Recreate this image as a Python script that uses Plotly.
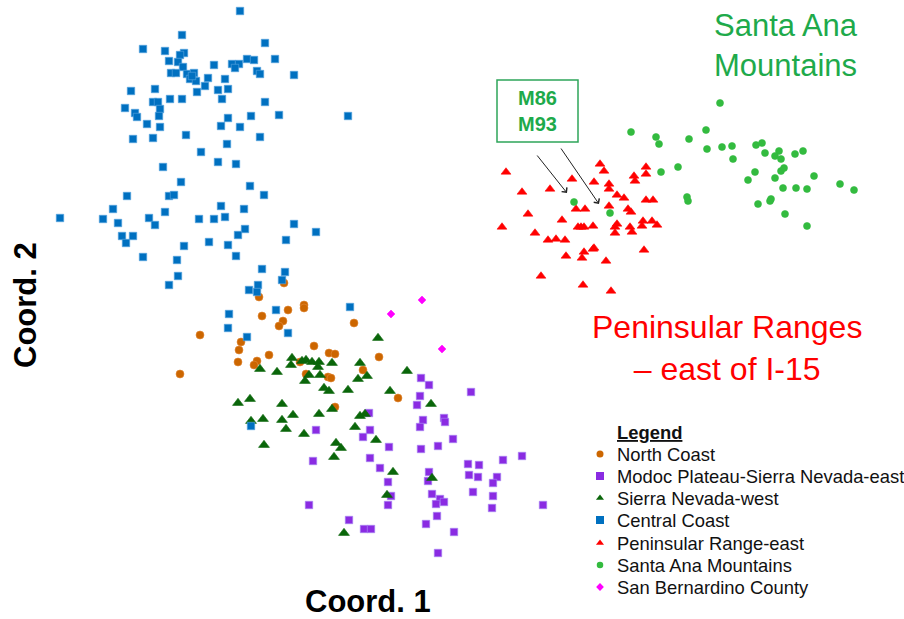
import plotly.graph_objects as go

# Ordination scores (plot units; Coord. 2 grows downward in these units)
north_coast_x = [284, 259, 304, 304, 288, 262, 354, 200, 283, 279, 241, 239, 238, 257, 254, 269, 314, 329, 335, 379, 300, 363, 180, 306, 328, 331, 398, 335]
north_coast_y = [283, 297, 305, 308, 310, 316, 323, 335, 321, 326, 342, 350, 362, 361, 365, 355, 346, 353, 354, 357, 362, 370, 374, 374, 377, 378, 398, 407]

central_coast_x = [240, 182, 143, 165, 265, 184, 180, 169, 178, 183, 214, 232, 239, 235, 247, 254, 275, 257, 260, 294,
                   171, 176, 187, 194, 190, 196, 192, 208, 225, 205, 197, 218, 228, 222, 131, 155, 170, 182, 125, 153,
                   158, 160, 135, 137, 159, 147, 160, 265, 228, 251, 279, 348, 221, 240, 133, 153, 186, 260, 227,
                   201, 218, 236, 163, 181, 250, 264, 127, 169, 174, 113, 221, 244, 60, 103, 118, 165, 149, 155, 199,
                   214, 225, 294, 316, 122, 133, 126, 245, 238, 286, 184, 209, 228, 143, 177, 236, 262, 285, 282, 178,
                   169, 258, 249, 257, 229, 228, 276, 350, 247, 288, 251]
central_coast_y = [11, 35, 49, 51, 43, 53, 55, 61, 62, 67, 65, 64, 64, 68, 59, 60, 59, 71, 74, 75,
                   73, 73, 74, 73, 79, 81, 76, 78, 79, 86, 92, 90, 89, 99, 91, 89, 99, 99, 108, 102,
                   102, 109, 113, 117, 116, 124, 127, 102, 118, 116, 115, 116, 126, 127, 139, 138, 135, 137, 144,
                   152, 162, 164, 167, 182, 186, 195, 196, 196, 195, 209, 206, 209, 218, 219, 223, 212, 218, 225, 219,
                   219, 217, 224, 232, 236, 236, 243, 229, 235, 240, 246, 242, 245, 257, 260, 256, 269, 272, 280, 276,
                   285, 285, 290, 292, 314, 328, 310, 307, 337, 333, 426]

sierra_west_x = [378, 292, 302, 306, 312, 319, 318, 332, 291, 360, 260, 277, 309, 320, 305, 358, 367, 407, 324, 329,
                 348, 390, 238, 250, 282, 332, 263, 282, 293, 319, 360, 365, 355, 286, 251, 431, 304, 376, 264, 336,
                 341, 334, 393, 432, 387, 344]
sierra_west_y = [338, 358, 361, 360, 362, 362, 367, 363, 365, 363, 369, 372, 375, 375, 381, 379, 376, 371, 388, 391,
                 390, 391, 403, 399, 404, 409, 419, 420, 415, 414, 416, 414, 427, 429, 421, 404, 434, 440, 445, 443,
                 448, 457, 472, 478, 495, 533]

modoc_x = [421, 429, 471, 420, 417, 369, 423, 444, 445, 420, 316, 370, 363, 453, 389, 421, 438, 313, 370, 380,
           468, 479, 503, 522, 429, 428, 469, 478, 497, 493, 388, 473, 432, 440, 444, 436, 391, 388, 493, 492,
           543, 309, 437, 426, 349, 364, 371, 454, 438]
modoc_y = [378, 385, 392, 396, 405, 413, 420, 418, 422, 427, 430, 430, 437, 439, 447, 449, 446, 461, 458, 468,
           464, 465, 460, 456, 472, 481, 475, 477, 477, 483, 482, 492, 494, 499, 502, 504, 496, 505, 496, 508,
           505, 505, 516, 524, 520, 529, 529, 532, 553]

peninsular_x = [506, 600, 604, 646, 646, 634, 635, 572, 594, 609, 609, 550, 522, 617, 624, 646, 653, 609, 576, 585,
                628, 631, 528, 562, 502, 578, 584, 581, 593, 617, 615, 615, 630, 632, 643, 642, 652, 657, 535, 548,
                556, 565, 566, 584, 582, 594, 593, 606, 644, 541, 583, 611]
peninsular_y = [172, 164, 171, 167, 174, 176, 181, 179, 182, 184, 189, 189, 192, 195, 198, 200, 200, 206, 209, 209,
                209, 212, 214, 220, 227, 227, 227, 227, 226, 224, 227, 233, 227, 232, 221, 226, 221, 225, 233, 240,
                239, 240, 256, 252, 258, 248, 249, 261, 250, 276, 285, 291]

santa_ana_x = [720, 631, 656, 659, 689, 706, 707, 722, 732, 733, 756, 762, 765, 775, 779, 781, 795, 803, 661, 678,
               755, 748, 775, 781, 784, 814, 783, 796, 807, 840, 854, 687, 688, 758, 770, 771, 785, 807, 574, 610]
santa_ana_y = [103, 132, 137, 144, 139, 130, 149, 147, 146, 159, 145, 143, 153, 156, 151, 159, 154, 151, 172, 167,
               172, 180, 178, 171, 168, 176, 188, 188, 189, 184, 190, 197, 201, 204, 201, 199, 214, 226, 202, 213]

san_bern_x = [391, 422, 442]
san_bern_y = [314, 300, 349]

groups = [
    ("North Coast", north_coast_x, north_coast_y, "circle", 8, "#CC6600", "#E08A3A"),
    ("Modoc Plateau-Sierra Nevada-east", modoc_x, modoc_y, "square", 7.5, "#8A2BE2", "#A98BF5"),
    ("Sierra Nevada-west", sierra_west_x, sierra_west_y, "triangle-up", 9.5, "#0A660A", "#0A660A"),
    ("Central Coast", central_coast_x, central_coast_y, "square", 7.5, "#0070C0", "#5AA6E0"),
    ("Peninsular Range-east", peninsular_x, peninsular_y, "triangle-up", 8.5, "#FF0000", "#FF0000"),
    ("Santa Ana Mountains", santa_ana_x, santa_ana_y, "circle", 7, "#33BB3F", "#33BB3F"),
    ("San Bernardino County", san_bern_x, san_bern_y, "diamond", 6, "#FF00FF", "#FF00FF"),
]

fig = go.Figure()
for name, xs, ys, sym, size, col, edge in groups:
    fig.add_trace(go.Scatter(x=xs, y=ys, mode="markers", name=name,
                             marker=dict(symbol=sym, size=size, color=col,
                                         line=dict(width=0.6, color=edge)),
                             showlegend=False))

# Manual legend (overlay axes in page units)
leg_y = [454, 476, 498, 520, 543, 565, 587]
leg_sizes = [7, 8, 7, 8, 7, 6.5, 6]
for (name, xs, ys, sym, size, col, edge), ly, ls in zip(groups, leg_y, leg_sizes):
    fig.add_trace(go.Scatter(x=[600], y=[ly], xaxis="x2", yaxis="y2", mode="markers",
                             marker=dict(symbol=sym, size=ls, color=col), showlegend=False,
                             hoverinfo="skip"))
    fig.add_annotation(x=615, y=ly, xref="x2", yref="y2", text=name, showarrow=False,
                       xanchor="left", yanchor="middle",
                       font=dict(family="Liberation Sans, Arial", size=18.4, color="#111111"))
fig.add_annotation(x=615, y=432, xref="x2", yref="y2", text="<b><u>Legend</u></b>", showarrow=False,
                   xanchor="left", yanchor="middle",
                   font=dict(family="Liberation Sans, Arial", size=18.4, color="#111111"))

# Axis titles
fig.add_annotation(x=368, y=601, xref="x2", yref="y2", text="<b>Coord. 1</b>", showarrow=False,
                   font=dict(family="Liberation Sans, Arial", size=31, color="#000000"))
fig.add_annotation(x=25, y=305, xref="x2", yref="y2", text="<b>Coord. 2</b>", showarrow=False,
                   textangle=-90,
                   font=dict(family="Liberation Sans, Arial", size=31, color="#000000"))

# Group labels
fig.add_annotation(x=786, y=45, xref="x2", yref="y2", text="Santa Ana<br>Mountains", showarrow=False,
                   font=dict(family="Liberation Sans, Arial", size=31, color="#1EAA4B"))
fig.add_annotation(x=727, y=348, xref="x2", yref="y2", text="Peninsular Ranges<br>– east of I-15",
                   showarrow=False,
                   font=dict(family="Liberation Sans, Arial", size=32, color="#FF0000"))

# M86 / M93 callout
fig.add_shape(type="rect", xref="x2", yref="y2", x0=497, x1=578, y0=80, y1=142,
              line=dict(color="#2EA55A", width=1.5), fillcolor="rgba(0,0,0,0)")
fig.add_annotation(x=537.5, y=111, xref="x2", yref="y2", text="<b>M86<br>M93</b>", showarrow=False,
                   font=dict(family="Liberation Sans, Arial", size=20, color="#1EAA4B"))
for (tx, ty), (hx, hy) in [((536, 154), (567, 193)), ((560, 147), (599, 204))]:
    fig.add_annotation(x=hx, y=hy, ax=tx, ay=ty, xref="x2", yref="y2", axref="x2", ayref="y2",
                       text="", showarrow=True, arrowhead=4, arrowsize=1.3, arrowwidth=1,
                       arrowcolor="#222222")

ax_common = dict(showgrid=False, zeroline=False, showticklabels=False, ticks="", showline=False)
fig.update_layout(
    width=904, height=619,
    margin=dict(l=0, r=0, t=0, b=0),
    paper_bgcolor="white", plot_bgcolor="white",
    xaxis=dict(range=[0, 904], domain=[0, 1], **ax_common),
    yaxis=dict(range=[619, 0], domain=[0, 1], **ax_common),
    xaxis2=dict(range=[0, 904], domain=[0, 1], overlaying="x", anchor="y2", **ax_common),
    yaxis2=dict(range=[619, 0], domain=[0, 1], overlaying="y", anchor="x2", **ax_common),
    showlegend=False,
)

fig.write_html("out.html", config={"displayModeBar": False},
               post_script="document.body.style.margin='0';document.body.style.overflow='hidden';")
